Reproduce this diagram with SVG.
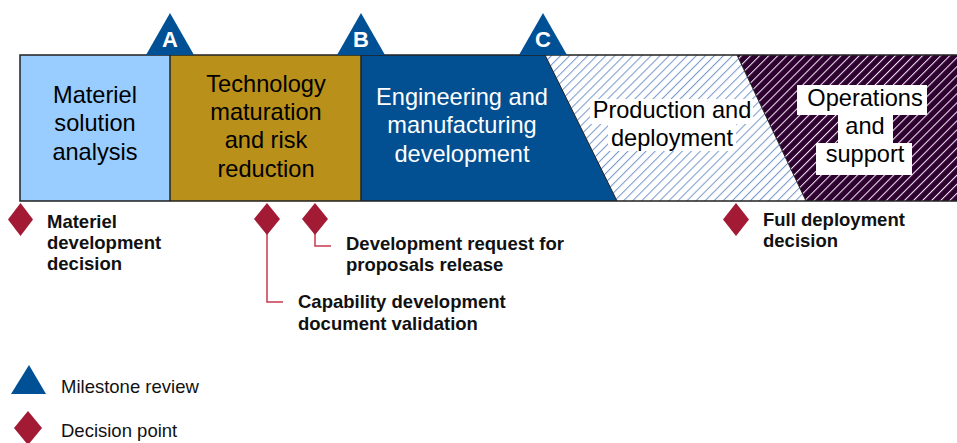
<svg xmlns="http://www.w3.org/2000/svg" width="957" height="443" viewBox="0 0 957 443">
<style>
.phase-text{font-family:"Liberation Sans",Arial,sans-serif;font-size:23.6px;text-anchor:middle;fill:#000}
.ms-letter{font-family:"Liberation Sans",Arial,sans-serif;font-size:22px;font-weight:bold;fill:#fff;text-anchor:middle}
.dec-text{font-family:"Liberation Sans",Arial,sans-serif;font-size:18.5px;font-weight:bold;fill:#111}
.legend-text{font-family:"Liberation Sans",Arial,sans-serif;font-size:18.5px;fill:#111}
.ms{fill:#005096}
.dec{fill:#A31A35}
.edge{stroke:#222;stroke-width:1.5;fill:none}
.leader{stroke:#C8384E;stroke-width:1.5;fill:none}
</style>
<defs>
<pattern id="hatchBlue" patternUnits="userSpaceOnUse" width="6.4" height="10" patternTransform="rotate(45)">
<rect width="6.4" height="10" fill="#fff"/>
<line x1="0.5" y1="0" x2="0.5" y2="10" stroke="#7B9BCB" stroke-width="1.1"/>
</pattern>
<pattern id="hatchPurple" patternUnits="userSpaceOnUse" width="6.4" height="10" patternTransform="rotate(45)">
<rect width="6.4" height="10" fill="#2D0030"/>
<line x1="0.5" y1="0" x2="0.5" y2="10" stroke="#F2E6F2" stroke-width="1.1"/>
</pattern>
</defs>
<rect width="957" height="443" fill="#fff"/>

<g id="phase-operations">
<polygon points="737,55 957,55 957,201 806,201" fill="url(#hatchPurple)"/>
<rect x="797" y="85" width="130" height="30" fill="#fff"/>
<rect x="838" y="114" width="55" height="30" fill="#fff"/>
<rect x="816" y="143" width="96" height="32" fill="#fff"/>
<text class="phase-text" x="865" y="106">Operations</text>
<text class="phase-text" x="865" y="134">and</text>
<text class="phase-text" x="865" y="162">support</text>
</g>

<g id="phase-production">
<polygon points="545,55 737,55 806,201 617,201" fill="url(#hatchBlue)"/>
<rect x="590" y="99" width="163" height="25" fill="#fff"/>
<rect x="608" y="123" width="128" height="28" fill="#fff"/>
<text class="phase-text" x="672" y="118">Production and</text>
<text class="phase-text" x="672" y="146">deployment</text>
</g>

<g id="phase-engineering">
<polygon points="361,55 545,55 617,201 361,201" fill="#024F91"/>
<text class="phase-text" x="462" y="105" style="fill:#fff">Engineering and</text>
<text class="phase-text" x="462" y="133" style="fill:#fff">manufacturing</text>
<text class="phase-text" x="462" y="162" style="fill:#fff">development</text>
</g>

<g id="phase-technology">
<rect x="170" y="55" width="191" height="146" fill="#B9901A"/>
<text class="phase-text" x="266" y="92">Technology</text>
<text class="phase-text" x="266" y="120">maturation</text>
<text class="phase-text" x="266" y="148">and risk</text>
<text class="phase-text" x="266" y="177">reduction</text>
</g>

<g id="phase-materiel">
<rect x="20" y="55" width="150" height="146" fill="#99CCFF"/>
<text class="phase-text" x="95" y="103">Materiel</text>
<text class="phase-text" x="95" y="131">solution</text>
<text class="phase-text" x="95" y="160">analysis</text>
</g>

<g id="bar-outline">
<polyline class="edge" points="957,55 20,55 20,201 957,201"/>
<line class="edge" x1="170" y1="55" x2="170" y2="201"/>
<line class="edge" x1="361" y1="55" x2="361" y2="201"/>
<line class="edge" x1="545" y1="55" x2="617" y2="201" style="stroke-width:1"/>
<line class="edge" x1="737" y1="55" x2="806" y2="201" style="stroke-width:1"/>
</g>

<g id="milestone-A">
<polygon class="ms" points="170,13 194,55 146,55"/>
<text class="ms-letter" x="170" y="47">A</text>
</g>
<g id="milestone-B">
<polygon class="ms" points="361,13 385,55 337,55"/>
<text class="ms-letter" x="361" y="47">B</text>
</g>
<g id="milestone-C">
<polygon class="ms" points="543,13 567,55 519,55"/>
<text class="ms-letter" x="543" y="47">C</text>
</g>

<g id="connectors">
<polyline class="leader" points="267,234 267,302 283,302"/>
<polyline class="leader" points="315,234 315,246 331,246"/>
</g>

<g id="decision-materiel">
<polygon class="dec" points="20.5,203 33,219.5 20.5,236 8,219.5"/>
<text class="dec-text" x="47" y="228">Materiel</text>
<text class="dec-text" x="47" y="249">development</text>
<text class="dec-text" x="47" y="270">decision</text>
</g>

<g id="decision-capability">
<polygon class="dec" points="267,203 280,219 267,235 254,219"/>
<text class="dec-text" x="298" y="308">Capability development</text>
<text class="dec-text" x="298" y="330">document validation</text>
</g>

<g id="decision-rfp">
<polygon class="dec" points="315,203 328,219 315,235 302,219"/>
<text class="dec-text" x="346" y="250">Development request for</text>
<text class="dec-text" x="346" y="271">proposals release</text>
</g>

<g id="decision-full-deployment">
<polygon class="dec" points="736,203 749,219.5 736,236 723,219.5"/>
<text class="dec-text" x="763" y="226">Full deployment</text>
<text class="dec-text" x="763" y="247">decision</text>
</g>

<g id="legend">
<polygon class="ms" points="29,365 46,394 11,394"/>
<text class="legend-text" x="61" y="393">Milestone review</text>
<polygon class="dec" points="28,411 42,428 28,445 14,428"/>
<text class="legend-text" x="61" y="437">Decision point</text>
</g>
</svg>
